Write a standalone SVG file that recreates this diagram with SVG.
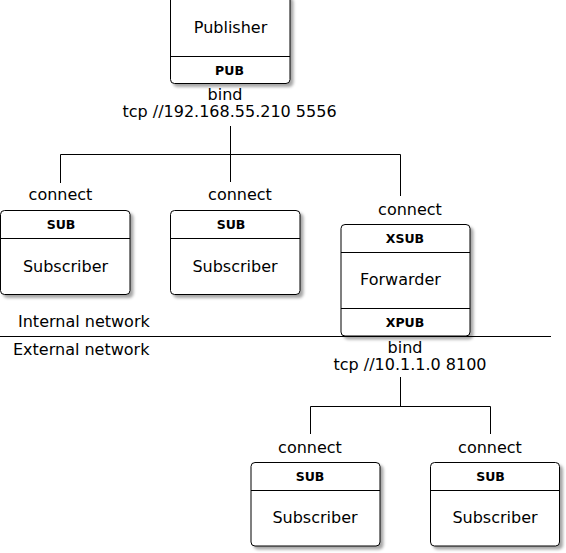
<svg xmlns="http://www.w3.org/2000/svg" width="566" height="553" viewBox="0 0 566 553">
<defs>
<filter id="sh" x="-10%" y="-10%" width="130%" height="130%">
<feDropShadow dx="3" dy="3" stdDeviation="1.8" flood-color="#000" flood-opacity="0.35"/>
</filter>
</defs>
<style>
.box{fill:#fff;stroke:#000;stroke-width:1;filter:url(#sh)}
.div{stroke:#000;stroke-width:1}
.ln{fill:none;stroke:#000;stroke-width:1}
text{font-family:"DejaVu Sans",sans-serif;fill:#000}
.big{font-size:16px;text-anchor:middle}
.lab{font-size:16px;text-anchor:middle}
.sock{font-size:12.5px;font-weight:bold;text-anchor:middle}
.net{font-size:16px}
</style>
<rect width="566" height="553" fill="#fff"/>
<g id="connectors">
<path class="ln" d="M230.5,126 V154.5 M60.5,183 V154.5 H400.5 V196 M230.5,154.5 V182"/>
<path class="ln" d="M400.5,377 V406.5 M310.5,434 V406.5 H490.5 V434"/>
<path class="ln" d="M0,336.5 H551"/>
</g>
<g id="publisher">
<rect class="box" x="170.5" y="-5" width="119.5" height="88.5" rx="4"/>
<line class="div" x1="170.5" y1="56.5" x2="290" y2="56.5"/>
<text class="big" x="230.5" y="33">Publisher</text>
<text class="sock" x="229.5" y="75">PUB</text>
<text class="lab" x="225" y="100">bind</text>
<text class="lab" x="229.5" y="117">tcp //192.168.55.210 5556</text>
</g>
<g id="sub1">
<text class="lab" x="60.5" y="200">connect</text>
<rect class="box" x="0.5" y="210.5" width="129.5" height="84" rx="4"/>
<line class="div" x1="0.5" y1="238.5" x2="130" y2="238.5"/>
<text class="sock" x="61" y="228.5">SUB</text>
<text class="big" x="65.5" y="272">Subscriber</text>
</g>
<g id="sub2">
<text class="lab" x="240" y="200">connect</text>
<rect class="box" x="170.5" y="210.5" width="129.5" height="84" rx="4"/>
<line class="div" x1="170.5" y1="238.5" x2="300" y2="238.5"/>
<text class="sock" x="231" y="228.5">SUB</text>
<text class="big" x="235" y="272">Subscriber</text>
</g>
<g id="forwarder">
<text class="lab" x="410" y="215">connect</text>
<rect class="box" x="341" y="224.5" width="129" height="111.5" rx="4"/>
<line class="div" x1="341" y1="252.5" x2="470" y2="252.5"/>
<line class="div" x1="341" y1="308.5" x2="470" y2="308.5"/>
<text class="sock" x="405" y="243">XSUB</text>
<text class="big" x="400.5" y="285">Forwarder</text>
<text class="sock" x="405" y="327">XPUB</text>
<text class="lab" x="405" y="353">bind</text>
<text class="lab" x="410" y="370">tcp //10.1.1.0 8100</text>
</g>
<g id="networks">
<text class="net" x="18" y="327">Internal network</text>
<text class="net" x="13" y="355">External network</text>
</g>
<g id="sub3">
<text class="lab" x="310" y="453">connect</text>
<rect class="box" x="251" y="462.5" width="129" height="83.5" rx="4"/>
<line class="div" x1="251" y1="490.5" x2="380" y2="490.5"/>
<text class="sock" x="310" y="481">SUB</text>
<text class="big" x="315" y="523">Subscriber</text>
</g>
<g id="sub4">
<text class="lab" x="490" y="453">connect</text>
<rect class="box" x="430.5" y="462.5" width="129" height="83.5" rx="4"/>
<line class="div" x1="430.5" y1="490.5" x2="559.5" y2="490.5"/>
<text class="sock" x="490.5" y="481">SUB</text>
<text class="big" x="495" y="523">Subscriber</text>
</g>
</svg>
